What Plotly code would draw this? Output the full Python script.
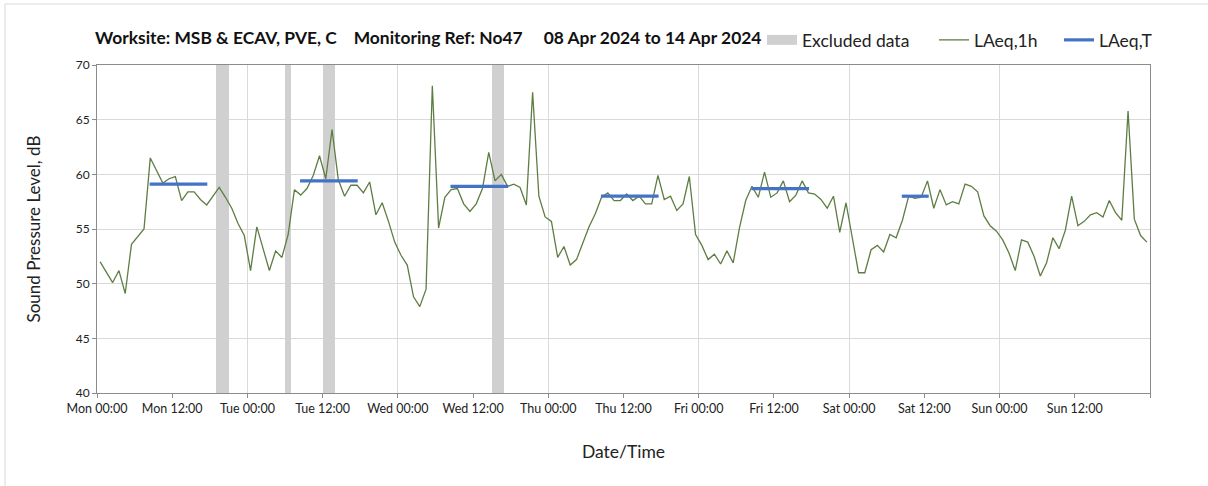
import plotly.graph_objects as go

# ---- data ----
# hourly LAeq,1h values, Mon 00:00 .. Sun 23:00 (plotted at mid-hour)
laeq_1h = [
    52.0, 51.1, 50.1, 51.2, 49.1, 53.6, 54.3, 55.0, 61.5, 60.4, 59.2, 59.6,
    59.8, 57.6, 58.4, 58.4, 57.7, 57.2, 58.0, 58.8, 57.9, 56.9, 55.5, 54.4,
    51.2, 55.2, 53.2, 51.2, 53.0, 52.4, 54.5, 58.6, 58.1, 58.7, 59.9, 61.7,
    59.6, 64.1, 59.5, 58.0, 59.0, 59.0, 58.3, 59.3, 56.3, 57.4, 55.7, 53.8,
    52.6, 51.7, 48.8, 47.9, 49.5, 68.1, 55.1, 57.9, 58.6, 58.7, 57.3, 56.6,
    57.3, 58.7, 62.0, 59.4, 60.0, 58.9, 59.1, 58.8, 57.2, 67.5, 58.0, 56.1,
    55.7, 52.4, 53.4, 51.7, 52.2, 53.7, 55.2, 56.4, 57.9, 58.3, 57.6, 57.6,
    58.2, 57.6, 58.0, 57.3, 57.3, 59.9, 57.7, 58.0, 56.7, 57.3, 59.8, 54.5,
    53.5, 52.2, 52.7, 51.8, 53.0, 51.9, 55.1, 57.6, 58.9, 57.9, 60.2, 57.9,
    58.3, 59.4, 57.5, 58.1, 59.4, 58.3, 58.2, 57.7, 56.9, 58.0, 54.7, 57.4,
    54.3, 51.0, 51.0, 53.1, 53.5, 52.9, 54.5, 54.2, 55.8, 58.0, 57.8, 57.9,
    59.4, 56.9, 58.6, 57.2, 57.5, 57.3, 59.1, 58.9, 58.4, 56.2, 55.3, 54.8,
    54.0, 52.8, 51.2, 54.0, 53.8, 52.5, 50.7, 51.9, 54.2, 53.2, 54.9, 58.0,
    55.3, 55.7, 56.3, 56.5, 56.1, 57.6, 56.5, 55.8, 65.8, 55.9, 54.4, 53.8,
]
hours = [h + 0.5 for h in range(len(laeq_1h))]

# LAeq,T per day (Mon..Sat): value, start hour, end hour of the period
laeqT_days = [0, 1, 2, 3, 4, 5]
laeqT_values = [59.1, 59.4, 58.9, 58.0, 58.7, 58.0]
laeqT_start = [8.4, 8.4, 8.4, 8.4, 8.4, 8.4]
laeqT_end = [17.6, 17.6, 17.6, 17.6, 17.6, 12.7]

# excluded data periods (start hour, end hour)
excl_start = [19, 30, 36, 63]
excl_end = [21, 31, 38, 65]

tick_hours = list(range(0, 169, 12))
tick_labels = ["Mon 00:00", "Mon 12:00", "Tue 00:00", "Tue 12:00", "Wed 00:00",
               "Wed 12:00", "Thu 00:00", "Thu 12:00", "Fri 00:00", "Fri 12:00",
               "Sat 00:00", "Sat 12:00", "Sun 00:00", "Sun 12:00", ""]
y_min, y_max = 40, 70

FONT = "Lato"
AXIS_GREY = "#8c8c8c"
GRID = "#d9d9d9"
EXCL = "#d0d0d0"
TXT = "#222222"

W, H = 1208, 486
ML, MR, MT, MB = 97, 58, 65, 93
PW, PH = W - ML - MR, H - MT - MB

fig = go.Figure()

# Excluded data as full-height bars
fig.add_trace(go.Bar(
    x=[(s + e) / 2 for s, e in zip(excl_start, excl_end)],
    y=[y_max - y_min] * len(excl_start),
    base=[y_min] * len(excl_start),
    width=[e - s for s, e in zip(excl_start, excl_end)],
    marker=dict(color=EXCL, line=dict(width=0)),
    name="Excluded data", showlegend=False,
    hoverinfo="skip",
))
# legend entry for excluded data (wide grey block)
fig.add_trace(go.Scatter(
    x=[None], y=[None], mode="lines", line=dict(color=EXCL, width=10),
    name="Excluded data", legend="legend",
))

fig.add_trace(go.Scatter(
    x=hours, y=laeq_1h, mode="lines",
    line=dict(color="#5e7d43", width=1.3),
    name="LAeq,1h", legend="legend2",
))

for i, (d, v, s, e) in enumerate(zip(laeqT_days, laeqT_values, laeqT_start, laeqT_end)):
    fig.add_trace(go.Scatter(
        x=[d * 24 + s, d * 24 + e], y=[v, v], mode="lines",
        line=dict(color="#4472c4", width=3.2),
        name="LAeq,T", legendgroup="T", showlegend=(i == 0), legend="legend3",
    ))

# invisible trace to carry the daily-grid overlay axis
fig.add_trace(go.Scatter(x=[0, 168], y=[y_min, y_min], xaxis="x2", mode="lines",
                         line=dict(width=0), showlegend=False, hoverinfo="skip"))

leg_common = dict(orientation="h", y=(393 - 40) / PH, yanchor="middle", xanchor="left",
                  font=dict(family=FONT, size=17.5, color=TXT),
                  bgcolor="rgba(0,0,0,0)")

title_txt = ("<b>Worksite: MSB &amp; ECAV, PVE, C&nbsp;&nbsp;&nbsp;&nbsp;Monitoring Ref: No47"
             "&nbsp;&nbsp;&nbsp;&nbsp;&nbsp;08 Apr 2024 to 14 Apr 2024</b>")

fig.update_layout(
    width=W, height=H,
    margin=dict(l=ML, r=MR, t=MT, b=MB, autoexpand=False),
    paper_bgcolor="white", plot_bgcolor="white",
    font=dict(family=FONT, color=TXT),
    bargap=0,
    title=dict(
        text=title_txt,
        x=95 / W, xanchor="left", xref="container",
        y=1 - 38 / H, yanchor="middle", yref="container",
        font=dict(family=FONT, size=17.4, color="#111111"),
    ),
    legend=dict(x=(762 - ML) / PW, **leg_common),
    legend2=dict(x=(934 - ML) / PW, **leg_common),
    legend3=dict(x=(1059 - ML) / PW, **leg_common),
    xaxis=dict(
        range=[0, 168], tickmode="array", tickvals=tick_hours, ticktext=tick_labels,
        showgrid=False, zeroline=False,
        showline=True, linecolor=AXIS_GREY, linewidth=1, mirror=True,
        ticks="outside", ticklen=4, tickcolor=AXIS_GREY,
        tickfont=dict(family=FONT, size=12.5, color=TXT),
        title=dict(text="Date/Time", font=dict(family=FONT, size=17.5, color=TXT), standoff=30),
    ),
    xaxis2=dict(
        overlaying="x", matches="x", range=[0, 168], dtick=24, tick0=0,
        showgrid=True, gridcolor=GRID, gridwidth=1, showticklabels=False,
        ticks="", zeroline=False, showline=False, side="bottom",
        layer="below traces",
    ),
    yaxis=dict(
        range=[y_min, y_max], dtick=5, showgrid=True, gridcolor=GRID, gridwidth=1,
        zeroline=False, showline=True, linecolor=AXIS_GREY, linewidth=1, mirror=True,
        ticks="outside", ticklen=4, tickcolor=AXIS_GREY,
        tickfont=dict(family=FONT, size=12, color=TXT),
        title=dict(text="Sound Pressure Level, dB", font=dict(family=FONT, size=17, color=TXT), standoff=30),
    ),
)

# chart-area border (light grey frame), extends beyond the visible page on right/bottom
fig.add_shape(type="rect", xref="paper", yref="paper",
              x0=(5 - ML) / PW, x1=(W + 20 - ML) / PW,
              y0=(MT + PH - (H + 20)) / PH, y1=(MT + PH - 4) / PH,
              line=dict(color="#d9d9d9", width=1), fillcolor="rgba(0,0,0,0)", layer="below")

fig.write_html("out.html", config={"displayModeBar": False},
               post_script="document.body.style.margin='0';")
